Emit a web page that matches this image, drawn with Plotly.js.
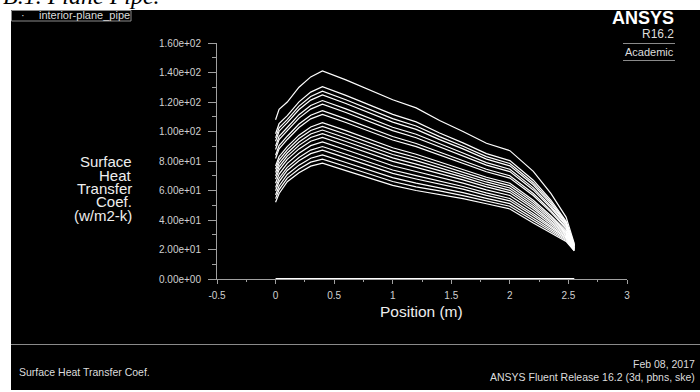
<!DOCTYPE html>
<html>
<head>
<meta charset="utf-8">
<script src="https://cdn.plot.ly/plotly-3.0.1.min.js"></script>
<style>html,body{margin:0;padding:0;background:#fff;}#chart{width:700px;height:392px;}</style>
</head>
<body>
<div id="chart"></div>
<script>
// ---- data ----
const positionM = [0, 0.03, 0.1, 0.2, 0.3, 0.4, 0.6, 0.8, 1.0, 1.2, 1.4, 1.6, 1.8, 2.0, 2.2, 2.35, 2.48, 2.55];
const htc01 = [108, 115, 120, 130, 137, 141, 135, 128, 121.5, 116, 107.5, 100, 92, 87, 73, 58, 42, 24];
const htc02 = [98.5, 105.3, 110.8, 120.1, 126.7, 130.4, 124.5, 117.9, 111.6, 106.5, 99, 92.3, 85, 80.3, 67, 53.4, 39.2, 23.2];
const htc03 = [95.7, 102.5, 108.1, 117.2, 123.7, 127.3, 121.5, 114.9, 108.7, 103.7, 96.5, 90, 83, 78.3, 65.3, 52.1, 38.4, 22.9];
const htc04 = [93.4, 100.2, 106, 114.9, 121.3, 124.8, 119, 112.5, 106.4, 101.4, 94.5, 88.2, 81.3, 76.7, 63.9, 51, 37.7, 22.7];
const htc05 = [90.1, 96.8, 102.7, 111.4, 117.6, 121, 115.3, 109, 102.9, 98.1, 91.5, 85.4, 78.9, 74.4, 61.8, 49.4, 36.7, 22.4];
const htc06 = [87.8, 94.5, 100.6, 109.1, 115.2, 118.5, 112.9, 106.6, 100.6, 95.8, 89.5, 83.6, 77.2, 72.8, 60.4, 48.3, 36.1, 22.2];
const htc07 = [83.9, 90.5, 96.8, 105.1, 111, 114.1, 108.6, 102.4, 96.6, 91.9, 86, 80.4, 74.4, 70, 58, 46.4, 34.9, 21.9];
const htc08 = [81.7, 88.2, 94.6, 102.7, 108.6, 111.6, 106.1, 100, 94.2, 89.7, 84, 78.6, 72.7, 68.4, 56.6, 45.3, 34.2, 21.7];
const htc09 = [76.6, 83.1, 89.8, 97.5, 103.1, 106, 100.6, 94.7, 89, 84.6, 79.5, 74.5, 69, 64.9, 53.4, 42.9, 32.8, 21.2];
const htc10 = [74.4, 80.8, 87.6, 95.2, 100.7, 103.5, 98.1, 92.3, 86.7, 82.4, 77.5, 72.7, 67.4, 63.3, 52, 41.8, 32.1, 21];
const htc11 = [72.2, 78.5, 85.4, 92.9, 98.3, 101, 95.6, 89.9, 84.4, 80.2, 75.5, 70.9, 65.8, 61.7, 50.6, 40.7, 31.4, 20.8];
const htc12 = [69.9, 76.2, 83.3, 90.6, 95.9, 98.5, 93.2, 87.5, 82.1, 77.9, 73.5, 69.1, 64.1, 60.1, 49.2, 39.6, 30.8, 20.6];
const htc13 = [67.7, 74, 81.1, 88.2, 93.4, 96, 90.7, 85.2, 79.7, 75.7, 71.5, 67.2, 62.5, 58.6, 47.8, 38.6, 30.1, 20.4];
const htc14 = [64.9, 71.1, 78.4, 85.3, 90.4, 92.9, 87.6, 82.2, 76.8, 72.9, 69, 65, 60.4, 56.6, 46.1, 37.2, 29.3, 20.2];
const htc15 = [62.1, 68.3, 75.7, 82.4, 87.4, 89.8, 84.6, 79.2, 73.9, 70.1, 66.5, 62.7, 58.4, 54.6, 44.3, 35.9, 28.5, 19.9];
const htc16 = [59.8, 66, 73.6, 80.1, 85, 87.3, 82.1, 76.8, 71.6, 67.8, 64.5, 60.9, 56.7, 53, 42.9, 34.8, 27.8, 19.7];
const htc17 = [57, 63.1, 70.9, 77.2, 81.9, 84.1, 79, 73.9, 68.7, 65, 62, 58.6, 54.7, 51.1, 41.2, 33.4, 27, 19.5];
const htc18 = [54.5, 60.6, 68.4, 74.6, 79.2, 81.3, 76.3, 71.2, 66.1, 62.5, 59.8, 56.5, 52.8, 49.3, 39.6, 32.2, 26.2, 19.2];
const htc19 = [52, 58, 66, 72, 76.5, 78.5, 73.5, 68.5, 63.5, 60, 57.5, 54.5, 51, 47.5, 38, 31, 25.5, 19];
const htcZero = [0, 0, 0, 0, 0, 0, 0, 0, 0, 0, 0, 0, 0, 0, 0, 0, 0, 0];
const allSeries = [htc01, htc02, htc03, htc04, htc05, htc06, htc07, htc08, htc09, htc10,
                   htc11, htc12, htc13, htc14, htc15, htc16, htc17, htc18, htc19, htcZero];

const yTickVals = [0, 20, 40, 60, 80, 100, 120, 140, 160];
const yTickText = ["0.00e+00", "2.00e+01", "4.00e+01", "6.00e+01", "8.00e+01", "1.00e+02", "1.20e+02", "1.40e+02", "1.60e+02"];
const xTickVals = [-0.5, 0, 0.5, 1, 1.5, 2, 2.5, 3];
const xTickText = ["-0.5", "0", "0.5", "1", "1.5", "2", "2.5", "3"];
const yTitleLines = ["Surface", "Heat", "Transfer", "Coef.", "(w/m2-k)"];

// ---- layout geometry ----
const WIDTH = 700, HEIGHT = 392;
const M = {l: 217, r: 73, t: 43, b: 113};
const PW = WIDTH - M.l - M.r, PH = HEIGHT - M.t - M.b;
const PX = p => (p - M.l) / PW;
const PY = p => (HEIGHT - M.b - p) / PH;

const FONT = "Liberation Sans, Arial, sans-serif";
const NARROW = "Liberation Sans Narrow, Arial Narrow, Liberation Sans, sans-serif";

const traces = allSeries.map(vals => ({
  x: positionM, y: vals, type: 'scatter', mode: 'lines',
  line: {color: '#ffffff', width: (vals === htcZero ? 2 : 1.2)},
  hoverinfo: 'skip', showlegend: false
}));

function txt(text, x, y, opts) {
  return Object.assign({
    text: text, xref: 'paper', yref: 'paper', x: PX(x), y: PY(y),
    showarrow: false, xanchor: 'center', yanchor: 'middle',
    font: {family: FONT, size: 11, color: '#dddddd'}
  }, opts || {});
}

const annotations = [
  txt('B.1. Plane Pipe.', 1, 11, {xanchor: 'left', yanchor: 'bottom',
      font: {family: 'Liberation Serif, Times New Roman, serif', size: 24, color: '#000000', style: 'italic'}}),
  txt('·', 23, 15, {font: {family: FONT, size: 11, color: '#dddddd'}}),
  txt('interior-plane_pipe', 37, 15.5, {xanchor: 'left'}),
  txt('<b>ANSYS</b>', 676, 18.5, {xanchor: 'right', font: {family: NARROW, size: 18, color: '#ffffff'}}),
  txt('R16.2', 676, 33.5, {xanchor: 'right', font: {family: NARROW, size: 12, color: '#dddddd'}}),
  txt('Academic', 649, 52, {font: {family: NARROW, size: 11, color: '#dddddd'}}),
  txt('Position (m)', 421.5, 311.5, {font: {family: FONT, size: 15.5, color: '#eeeeee'}}),
  txt('Surface Heat Transfer Coef.', 17, 372, {xanchor: 'left', font: {family: FONT, size: 10.5, color: '#dddddd'}}),
  txt('Feb 08, 2017', 697, 363.5, {xanchor: 'right', font: {family: FONT, size: 10.5, color: '#dddddd'}}),
  txt('ANSYS Fluent Release 16.2 (3d, pbns, ske)', 697, 376.5, {xanchor: 'right', font: {family: FONT, size: 10.5, color: '#dddddd'}})
];
const yTitleY = [161.7, 175, 188.3, 201.7, 215];
yTitleLines.forEach((line, i) => {
  annotations.push(txt(line, 134, yTitleY[i], {xanchor: 'right', font: {family: FONT, size: 15, color: '#eeeeee'}}));
});

function rect(x0, y0, x1, y1, fill, lineColor) {
  return {type: 'rect', xref: 'paper', yref: 'paper', layer: 'below',
    x0: PX(x0), x1: PX(x1), y0: PY(y0), y1: PY(y1),
    fillcolor: fill, line: {color: lineColor || fill, width: lineColor ? 1 : 0}};
}
function hline(x0, x1, y, color) {
  return {type: 'line', xref: 'paper', yref: 'paper', layer: 'above',
    x0: PX(x0), x1: PX(x1), y0: PY(y), y1: PY(y), line: {color: color, width: 1}};
}
const shapes = [
  rect(11, 10, 700, 390, '#000000'),
  hline(11, 700, 344.5, '#8a8a8a'),
  {type: 'rect', xref: 'paper', yref: 'paper', layer: 'above',
    x0: PX(11.5), x1: PX(131), y0: PY(10.5), y1: PY(21), line: {color: '#8a8a8a', width: 1}},
  hline(623, 675, 43.5, '#8a8a8a'),
  hline(623, 675, 60.5, '#8a8a8a')
];

const tickFont = {family: FONT, size: 10, color: '#d0d0d0'};
const layout = {
  width: WIDTH, height: HEIGHT,
  margin: M,
  paper_bgcolor: '#ffffff', plot_bgcolor: '#000000',
  showlegend: false,
  xaxis: {
    range: [-0.5, 3], tickmode: 'array', tickvals: xTickVals, ticktext: xTickText,
    showgrid: false, zeroline: false, showline: true, linecolor: '#a0a0a0', linewidth: 1,
    ticks: 'outside', ticklen: 4, tickcolor: '#a0a0a0', tickfont: tickFont, ticklabelstandoff: 3,
    minor: {tickmode: 'linear', tick0: 0, dtick: 0.25, ticks: 'outside', ticklen: 2, tickcolor: '#a0a0a0', showgrid: false},
    fixedrange: true
  },
  yaxis: {
    range: [0, 160], tickmode: 'array', tickvals: yTickVals, ticktext: yTickText,
    showgrid: false, zeroline: false, showline: true, linecolor: '#a0a0a0', linewidth: 1,
    ticks: 'outside', ticklen: 8, tickcolor: '#a0a0a0', tickfont: tickFont, ticklabelstandoff: 5,
    minor: {tickmode: 'linear', tick0: 0, dtick: 10, ticks: 'outside', ticklen: 4, tickcolor: '#a0a0a0', showgrid: false},
    fixedrange: true
  },
  shapes: shapes,
  annotations: annotations
};

Plotly.newPlot('chart', traces, layout, {displayModeBar: false, staticPlot: true});
</script>
</body>
</html>
